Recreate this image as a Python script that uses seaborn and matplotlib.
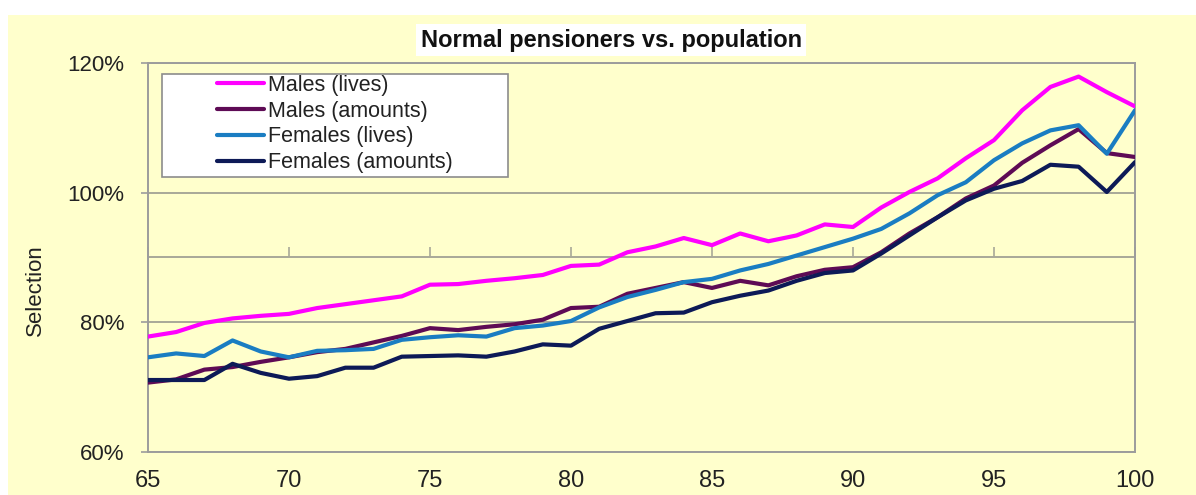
import numpy as np
import pandas as pd
import matplotlib
matplotlib.use("Agg")
import matplotlib.pyplot as plt
from matplotlib.patches import Rectangle
from matplotlib.ticker import FuncFormatter
import seaborn as sns

# Selection ratios (%), ages 65..100
ages = list(range(65, 101))
males_lives = [77.8, 78.5, 79.9, 80.6, 81.0, 81.3, 82.2, 82.8, 83.4, 84.0,
               85.8, 85.9, 86.4, 86.8, 87.3, 88.7, 88.9, 90.8, 91.7, 93.0,
               91.9, 93.7, 92.5, 93.4, 95.1, 94.7, 97.7, 100.1, 102.2, 105.3,
               108.1, 112.7, 116.3, 117.9, 115.5, 113.3]
males_amounts = [70.7, 71.2, 72.7, 73.1, 73.9, 74.6, 75.4, 75.9, 76.9, 77.9,
                 79.1, 78.8, 79.3, 79.7, 80.4, 82.2, 82.4, 84.4, 85.3, 86.2,
                 85.3, 86.4, 85.7, 87.1, 88.1, 88.5, 90.8, 93.7, 96.2, 99.1,
                 101.1, 104.6, 107.3, 109.8, 106.1, 105.5]
females_lives = [74.6, 75.2, 74.8, 77.2, 75.5, 74.6, 75.6, 75.7, 75.9, 77.3,
                 77.7, 78.0, 77.8, 79.1, 79.5, 80.2, 82.3, 83.9, 85.0, 86.2,
                 86.7, 88.0, 89.0, 90.3, 91.6, 92.9, 94.4, 96.8, 99.6, 101.6,
                 105.0, 107.6, 109.6, 110.4, 106.0, 112.7]
females_amounts = [71.1, 71.1, 71.1, 73.6, 72.2, 71.3, 71.7, 73.0, 73.0, 74.7,
                   74.8, 74.9, 74.7, 75.5, 76.6, 76.4, 79.0, 80.2, 81.4, 81.5,
                   83.1, 84.1, 84.9, 86.4, 87.6, 88.0, 90.6, 93.4, 96.2, 98.8,
                   100.6, 101.8, 104.3, 104.0, 100.1, 104.7]

series_names = ["Males (lives)", "Males (amounts)", "Females (lives)", "Females (amounts)"]
series_colors = ["#FF00FF", "#5E0B55", "#1A7DC2", "#0D1A57"]
x_ticks = [65, 70, 75, 80, 85, 90, 95, 100]
y_ticks = [60, 80, 100, 120]

bg = "#FFFFCC"
grid_col = "#A8A898"

sns.set_style("white")
plt.rcParams["font.family"] = ["Liberation Sans", "DejaVu Sans"]

# long-form table for seaborn
df = pd.DataFrame({
    "Age": ages * 4,
    "Selection": males_lives + males_amounts + females_lives + females_amounts,
    "Series": sum([[n] * len(ages) for n in series_names], []),
})

fig = plt.figure(figsize=(11.96, 4.95), dpi=100, facecolor="white")
# yellow chart area (white strip at top/left as in the source image)
fig.patches.append(Rectangle((8 / 1196, 0), 1, 1 - 15 / 495, transform=fig.transFigure,
                             facecolor=bg, edgecolor="none", zorder=-10))

ax = fig.add_axes([0.1237, 0.0869, 0.8253, 0.7859])
ax.set_facecolor(bg)

sns.lineplot(data=df, x="Age", y="Selection", hue="Series", hue_order=series_names,
             palette=dict(zip(series_names, series_colors)), linewidth=3.0,
             ax=ax, legend=True, zorder=3)

ax.set_xlim(65, 100)
ax.set_ylim(60, 120)
ax.set_xticks(x_ticks)
ax.set_yticks(y_ticks)
ax.set_yticks([90], minor=True)
ax.yaxis.set_major_formatter(FuncFormatter(lambda v, p: f"{v:.0f}%"))

ax.grid(axis="y", which="both", color=grid_col, linewidth=1.4, zorder=1)
ax.grid(axis="x", visible=False)
for s in ax.spines.values():
    s.set_color("#9C9C9C")
    s.set_linewidth(1.4)

ax.tick_params(axis="y", which="major", left=True, length=5, width=1.2, color="#9C9C9C",
               pad=12, labelsize=16, labelcolor="#222222")
ax.tick_params(axis="y", which="minor", left=False, length=0)
ax.tick_params(axis="x", bottom=False, length=0, pad=13, labelsize=17, labelcolor="#222222")

ax.set_xlabel("")
ax.set_ylabel("Selection", fontsize=16, color="#222222")
ax.yaxis.set_label_coords(-0.103, 0.416)

# small upward ticks on the 90% line
sec = ax.secondary_xaxis(0.5)
sec.set_xticks(x_ticks)
sec.set_xticklabels([])
sec.tick_params(direction="out", length=7, width=1.2, color=grid_col)
for s in sec.spines.values():
    s.set_visible(False)

# legend: white box with gray border, entries inside
ax.add_patch(Rectangle((0.0142, 0.7069), 0.3506, 0.2648, transform=ax.transAxes,
                       facecolor="white", edgecolor="#8C8C8C", linewidth=1.2, zorder=4))
handles, labels = ax.get_legend_handles_labels()
leg = ax.legend(handles, labels, loc="upper left", bbox_to_anchor=(0.0699, 0.969),
                frameon=False, fontsize=15.5, borderpad=0, borderaxespad=0,
                handlelength=2.2, handletextpad=0.15, labelspacing=0.22)
leg.set_zorder(5)
for t in leg.get_texts():
    t.set_color("#222222")

fig.text(0.511, 0.919, "Normal pensioners vs. population", ha="center", va="center",
         fontsize=17, fontweight="bold", color="#111111",
         bbox=dict(facecolor="white", edgecolor="none", pad=3))

fig.savefig("out.png", dpi=100, facecolor=fig.get_facecolor())
